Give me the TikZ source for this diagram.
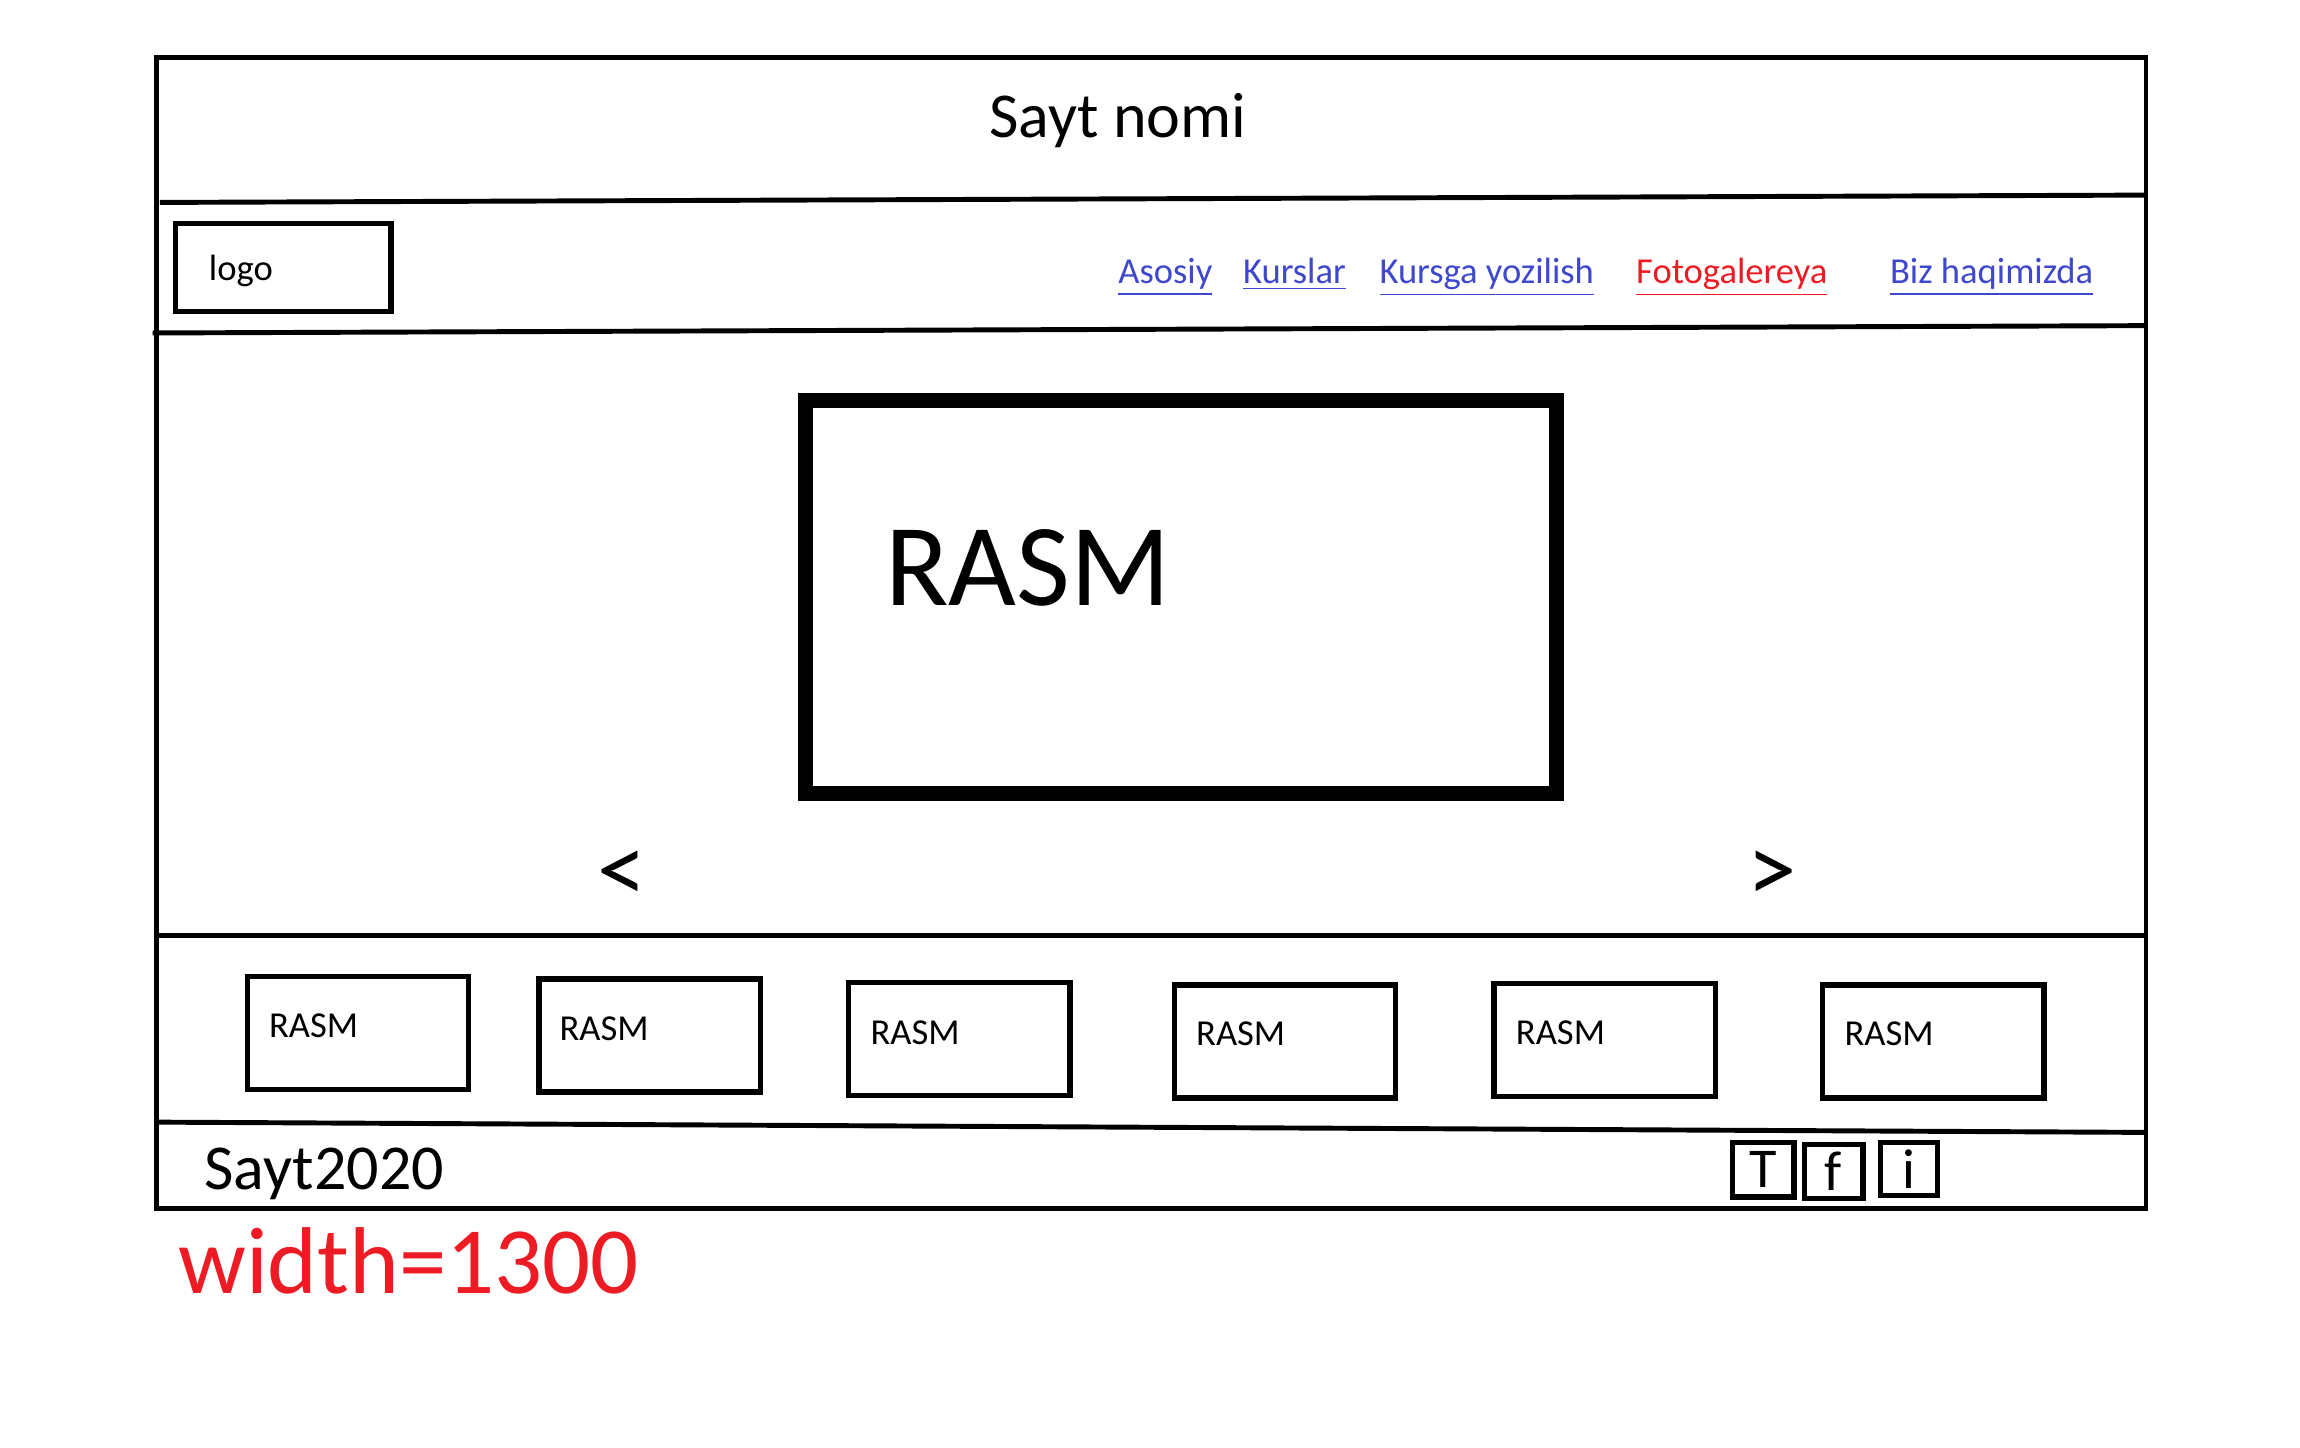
\documentclass[tikz,border=0pt]{standalone}
\usepackage{fontspec}
\setmainfont{Carlito}
\definecolor{linkblue}{RGB}{63,72,204}
\definecolor{paintred}{RGB}{237,28,36}
\begin{document}
\begin{tikzpicture}[x=0.014668cm,y=-0.014668cm,
  frame/.style={line width=1.4pt},
  box/.style={draw,line width=1.5pt,inner sep=0pt},
  bigbox/.style={draw,line width=4.4pt,inner sep=0pt,minimum width=512*0.014668cm,minimum height=268*0.014668cm},
  thumb/.style={box,minimum width=151*0.014668cm,minimum height=77*0.014668cm},
  icon/.style={box,font=\fontsize{16}{18}\selectfont,minimum width=40*0.014668cm,minimum height=37*0.014668cm},
  small/.style={inner sep=0pt,anchor=base west,font=\fontsize{10.4}{12}\selectfont},
  navlink/.style={small,text=linkblue},
  navred/.style={small,text=paintred},
  title/.style={inner sep=0pt,anchor=base,font=\fontsize{18.2}{20}\selectfont},
  arrowtxt/.style={inner sep=0pt,font=\fontsize{28}{30}\selectfont}
]
\useasboundingbox (0,0) rectangle (1568,987);
\fill[white] (0,0) rectangle (1568,987);
% outer frame and section lines
\draw[frame] (107,39) rectangle (1463,824);
\draw[frame] (109,138) -- (1463,133);
\draw[frame] (104,227) -- (1463,222);
\draw[frame] (105,638) -- (1463,638);
\draw[frame] (108,765) -- (1463,772);
% header
\node[title] (title) at (762,94) {Sayt nomi};
% nav
\node[box,minimum width=147*0.014668cm,minimum height=60*0.014668cm] (logobox) at (193,182.5) {};
\node[small] (logo) at (142,191) {logo};
\node[navlink] (n1) at (762,193) {\underline{Asosiy}};
\node[navlink] (n2) at (847,193) {\underline{Kurslar}};
\node[navlink] (n3) at (940,193) {\underline{Kursga yozilish}};
\node[navred] (n4) at (1115,193) {\underline{Fotogalereya}};
\node[navlink] (n5) at (1288,193) {\underline{Biz haqimizda}};
% slider
\node[bigbox] (big) at (805,407) {};
\node[inner sep=0pt,anchor=base west,font=\fontsize{33.3}{36}\selectfont] (bigtxt) at (603,413) {RASM};
\node[arrowtxt] (prev) at (424,598) {<};
\node[arrowtxt] (next) at (1208,598) {>};
% thumbnails
\node[thumb] (t1) at (244,704) {};
\node[thumb] (t2) at (443,706) {};
\node[thumb] (t3) at (654,708.5) {};
\node[thumb] (t4) at (876,710) {};
\node[thumb] (t5) at (1094,709) {};
\node[thumb] (t6) at (1318,710) {};
\node[small] (r1) at (183,707) {RASM};
\node[small] (r2) at (381,709) {RASM};
\node[small] (r3) at (593,712) {RASM};
\node[small] (r4) at (815,713) {RASM};
\node[small] (r5) at (1033,712) {RASM};
\node[small] (r6) at (1257,713) {RASM};
% footer
\node[inner sep=0pt,anchor=base west,font=\fontsize{18.2}{20}\selectfont] (foot) at (139,811) {Sayt2020};
\node[icon,minimum width=42*0.014668cm] (ti) at (1202,797.5) {T};
\node[icon] (fi) at (1250,798.5) {f};
\node[icon,minimum width=39*0.014668cm,minimum height=36*0.014668cm] (ii) at (1301.5,797) {i};
% note
\node[inner sep=0pt,anchor=base west,text=paintred,font=\fontsize{27}{30}\selectfont] (note) at (121,882) {width=1300};
\end{tikzpicture}
\end{document}
